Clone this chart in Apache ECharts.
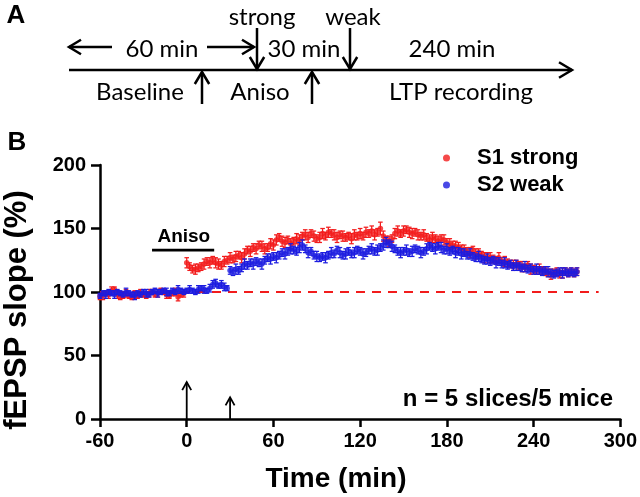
<!DOCTYPE html>
<html><head><meta charset="utf-8">
<script src="https://cdn.jsdelivr.net/npm/echarts@6/dist/echarts.min.js"></script>
<style>html,body{margin:0;padding:0;background:#fff}#c{width:640px;height:497px}</style>
</head><body><div id="c"></div>
<script>
// ---- data ----
const times = [-60,-58,-56,-54,-52,-50,-48,-46,-44,-42,-40,-38,-36,-34,-32,-30,-28,-26,-24,-22,-20,-18,-16,-14,-12,-10,-8,-6,-4,-2,
0,2,4,6,8,10,12,14,16,18,20,22,24,26,28,
30,32,34,36,38,40,42,44,46,48,50,52,54,56,58,
60,62,64,66,68,70,72,74,76,78,80,82,84,86,88,
90,92,94,96,98,100,102,104,106,108,110,112,114,116,118,
120,122,124,126,128,130,132,134,136,138,140,142,144,146,148,
150,152,154,156,158,160,162,164,166,168,170,172,174,176,178,
180,182,184,186,188,190,192,194,196,198,200,202,204,206,208,
210,212,214,216,218,220,222,224,226,228,230,232,234,236,238,
240,242,244,246,248,250,252,254,256,258,260,262,264,266,268,270];

const s1Strong = [96,97,99,98,101,102,98,96,97,99,97,96,98,97,99,98,97,99,100,98,99,101,100,98,97,99,100,96,98,99,
123,120,118,118,119,120,122,124,123,125,123,122,121,124,125,
127,126,128,129,127,130,133,132,135,134,137,136,134,135,138,
137,141,143,140,139,141,138,140,142,141,144,145,143,146,144,
142,143,146,144,147,146,145,143,145,144,143,144,142,145,144,
146,144,147,146,148,145,147,150,144,141,140,142,146,148,146,
148,149,147,146,147,145,144,145,143,141,143,142,140,142,141,
139,138,137,136,135,134,133,132,131,133,130,131,129,127,128,
127,126,125,127,124,124,123,122,121,122,121,120,119,121,118,
118,117,118,117,116,115,114,115,116,114,115,116,115,116,115,116];

const s1Sem = [2,3,2,3,3,2,3,2,2,3,2,2,3,2,3,2,2,3,2,2,3,2,2,3,2,2,3,3,2,3,
4,3,3,4,3,3,4,3,4,3,4,4,3,4,3,
4,3,4,3,4,4,3,4,3,4,3,4,4,3,4,
4,4,3,4,4,3,4,3,4,4,3,4,4,3,4,
3,4,4,3,4,3,4,4,3,4,3,3,4,4,3,
4,3,4,3,4,4,3,5,4,3,4,3,4,4,3,
4,3,4,4,3,4,3,4,3,4,4,3,4,3,4,
3,4,3,4,4,3,4,3,4,3,4,3,3,4,3,
4,3,3,4,3,4,3,3,4,3,3,4,3,3,4,
3,3,4,3,3,3,4,3,3,3,4,3,3,3,3,3];

const s2Weak = [97,99,98,100,99,98,100,99,98,100,99,98,97,99,98,100,99,98,100,101,99,100,101,100,99,101,100,102,101,100,
101,102,101,100,102,103,102,101,103,106,107,105,106,104,103,
117,116,118,117,119,122,121,123,122,124,123,122,125,127,126,
128,127,129,131,130,132,134,133,132,135,137,134,131,132,129,
128,127,128,127,129,131,130,133,131,129,130,132,130,131,133,
132,130,131,133,134,132,133,135,137,139,138,136,134,132,131,
132,133,131,132,134,133,131,132,134,136,135,134,136,135,133,
134,132,133,131,132,130,131,129,130,128,127,128,126,125,126,
124,125,123,124,122,123,121,122,120,121,120,119,120,118,119,
117,118,117,116,117,116,115,114,115,116,115,116,115,116,115,116];

const s2Sem = [2,2,3,2,2,3,2,2,2,3,2,2,3,2,2,2,3,2,2,2,3,2,2,3,2,2,2,3,2,2,
2,3,2,2,3,2,3,2,3,3,3,2,3,3,2,
3,3,4,3,3,4,3,3,4,3,3,4,3,3,4,
3,4,3,3,4,3,4,3,3,4,4,3,4,3,3,
4,3,3,4,3,4,3,3,4,3,4,3,3,4,3,
3,4,3,3,4,3,4,3,4,4,3,4,3,3,4,
3,4,3,4,3,3,4,3,4,3,3,4,3,4,3,
4,3,3,4,3,4,3,3,4,3,3,4,3,3,4,
3,3,4,3,3,4,3,3,3,4,3,3,4,3,3,
3,4,3,3,3,4,3,3,3,3,4,3,3,3,3,3];

const xTickLabels = [-60,0,60,120,180,240,300];
const yTickLabels = [0,50,100,150,200];
const baselineLevel = 100;
const baselineLine = [-60, 285];
const anisoBar = [-24, 19];
const anisoBarLevel = 133;
const anisoLabel = [-2, 143.5];
const stimTimes = [0, 30];
const stimArrowTops = [29, 17];

// ---- styles ----
const RED = '#f21c1c', BLUE = '#1c1ce0';
const FB = "'Liberation Sans', Arial, sans-serif";
const FA = "Lato, 'Open Sans', sans-serif";

function errRender(color) {
  return function (params, api) {
    const x = api.value(0), y = api.value(1), e = api.value(2);
    const hi = api.coord([x, y + e]), lo = api.coord([x, y - e]);
    const w = 2.3, st = { stroke: color, lineWidth: 1.25 };
    return { type: 'group', children: [
      { type: 'line', shape: { x1: hi[0], y1: hi[1], x2: lo[0], y2: lo[1] }, style: st },
      { type: 'line', shape: { x1: hi[0] - w, y1: hi[1], x2: hi[0] + w, y2: hi[1] }, style: st },
      { type: 'line', shape: { x1: lo[0] - w, y1: lo[1], x2: lo[0] + w, y2: lo[1] }, style: st }
    ]};
  };
}

const s1Data = times.map((t, i) => [t, s1Strong[i], s1Sem[i]]);
const s2Data = times.map((t, i) => [t, s2Weak[i], s2Sem[i]]);

function arrowHead(x, y, dir, s) {
  if (dir === 'up') return [[x - s * 0.6, y + s], [x, y], [x + s * 0.6, y + s]];
  if (dir === 'down') return [[x - s * 0.6, y - s], [x, y], [x + s * 0.6, y - s]];
  if (dir === 'left') return [[x + s, y - s * 0.6], [x, y], [x + s, y + s * 0.6]];
  return [[x - s, y - s * 0.6], [x, y], [x - s, y + s * 0.6]];
}
const LS = { stroke: '#000', lineWidth: 2.5 };
function lineEl(x1, y1, x2, y2) { return { type: 'line', shape: { x1, y1, x2, y2 }, style: LS }; }
function headEl(x, y, dir, s) { return { type: 'polyline', shape: { points: arrowHead(x, y, dir, s) }, style: Object.assign({ fill: null }, LS) }; }
function textA(t, x, y) { return { type: 'text', x, y, style: { text: t, font: '24px ' + FA, fill: '#000', align: 'center', verticalAlign: 'middle' } }; }

const graphics = [
  { type: 'text', x: 16, y: 16, style: { text: 'A', font: 'bold 26px ' + FB, fill: '#000', align: 'center', verticalAlign: 'middle' } },
  textA('strong', 262, 17), textA('weak', 353, 17),
  textA('60 min', 162, 49), textA('30 min', 304, 49), textA('240 min', 452, 49),
  textA('Baseline', 140, 92), textA('Aniso', 260, 92), textA('LTP recording', 461, 92),
  lineEl(69, 47, 112, 47), headEl(69, 47, 'left', 12),
  lineEl(207, 47, 254, 47), headEl(254, 47, 'right', 12),
  lineEl(257, 28, 257, 69), headEl(257, 69, 'down', 12),
  lineEl(350, 28, 350, 69), headEl(350, 69, 'down', 12),
  lineEl(69, 70, 572, 70), headEl(572, 70, 'right', 13),
  lineEl(202, 72, 202, 104), headEl(202, 72, 'up', 12),
  lineEl(312, 72, 312, 104), headEl(312, 72, 'up', 12),
  { type: 'text', x: 17, y: 143, style: { text: 'B', font: 'bold 26px ' + FB, fill: '#000', align: 'center', verticalAlign: 'middle' } },
  { type: 'text', x: 17, y: 310, rotation: Math.PI / 2, style: { text: 'fEPSP slope (%)', font: 'bold 31px ' + FB, fill: '#000', align: 'center', verticalAlign: 'middle' } },
  { type: 'text', x: 336, y: 479, style: { text: 'Time (min)', font: 'bold 28px ' + FB, fill: '#000', align: 'center', verticalAlign: 'middle' } },
  { type: 'text', x: 613, y: 399, style: { text: 'n = 5 slices/5 mice', font: 'bold 24px ' + FB, fill: '#000', align: 'right', verticalAlign: 'middle' } }
];

const chart = echarts.init(document.getElementById('c'), null, { renderer: 'canvas' });
chart.setOption({
  animation: false,
  backgroundColor: '#fff',
  grid: { left: 100, right: 19, top: 165, bottom: 78, containLabel: false },
  legend: {
    data: ['S1 strong', 'S2 weak'], orient: 'vertical', left: 438, top: 140,
    icon: 'circle', itemWidth: 7, itemHeight: 7, itemGap: 1,
    textStyle: { fontFamily: FB, fontWeight: 'bold', fontSize: 22, color: '#000', lineHeight: 26, padding: [0, 0, 0, 22] }
  },
  xAxis: {
    type: 'value', min: xTickLabels[0], max: xTickLabels[xTickLabels.length - 1], interval: 60,
    axisLine: { onZero: false, lineStyle: { color: '#000', width: 2.5 } },
    axisTick: { length: 8, lineStyle: { color: '#000', width: 2.5 } },
    axisLabel: { color: '#000', fontFamily: FB, fontWeight: 'bold', fontSize: 20, margin: 12 },
    splitLine: { show: false }
  },
  yAxis: {
    type: 'value', min: yTickLabels[0], max: yTickLabels[yTickLabels.length - 1], interval: 50,
    axisLine: { show: true, onZero: false, lineStyle: { color: '#000', width: 2.5 } },
    axisTick: { show: true, length: 9, lineStyle: { color: '#000', width: 2.5 } },
    axisLabel: { color: '#000', fontFamily: FB, fontWeight: 'bold', fontSize: 20, margin: 14 },
    splitLine: { show: false }
  },
  graphic: graphics,
  series: [
    { type: 'line', silent: true, data: baselineLine.map(t => [t, baselineLevel]), showSymbol: false, symbol: 'none',
      lineStyle: { color: RED, width: 2.2, type: [9, 7] }, z: 1 },
    { type: 'line', silent: true, data: anisoBar.map(t => [t, anisoBarLevel]), showSymbol: false, symbol: 'none',
      lineStyle: { color: '#000', width: 2.6 }, z: 1 },
    { type: 'custom', silent: true, data: [anisoLabel], encode: { x: 0, y: 1 },
      renderItem: (p, api) => { const c = api.coord([api.value(0), api.value(1)]);
        return { type: 'text', x: c[0], y: c[1], style: { text: 'Aniso', font: 'bold 19px ' + FB, fill: '#000', align: 'center', verticalAlign: 'middle' } }; } },
    { type: 'custom', silent: true, data: stimTimes.map((t, i) => [t, stimArrowTops[i]]), encode: { x: 0, y: 1 },
      renderItem: (p, api) => { const b = api.coord([api.value(0), 0]); const t = api.coord([api.value(0), api.value(1)]);
        const st = { stroke: '#000', lineWidth: 1.8, fill: null };
        return { type: 'group', children: [
          { type: 'line', shape: { x1: b[0], y1: b[1], x2: t[0], y2: t[1] }, style: st },
          { type: 'polyline', shape: { points: [[t[0] - 4.5, t[1] + 8], [t[0], t[1]], [t[0] + 4.5, t[1] + 8]] }, style: st }
        ]}; } },
    { type: 'custom', name: 'S1 err', silent: true, data: s1Data, encode: { x: 0, y: 1 }, renderItem: errRender(RED), z: 2 },
    { type: 'scatter', name: 'S1 strong', data: s1Data.map(d => [d[0], d[1]]), symbolSize: 5.5, itemStyle: { color: RED }, z: 3 },
    { type: 'custom', name: 'S2 err', silent: true, data: s2Data, encode: { x: 0, y: 1 }, renderItem: errRender(BLUE), z: 4 },
    { type: 'scatter', name: 'S2 weak', data: s2Data.map(d => [d[0], d[1]]), symbolSize: 5.5, itemStyle: { color: BLUE }, z: 5 }
  ]
});
</script>
</body></html>
